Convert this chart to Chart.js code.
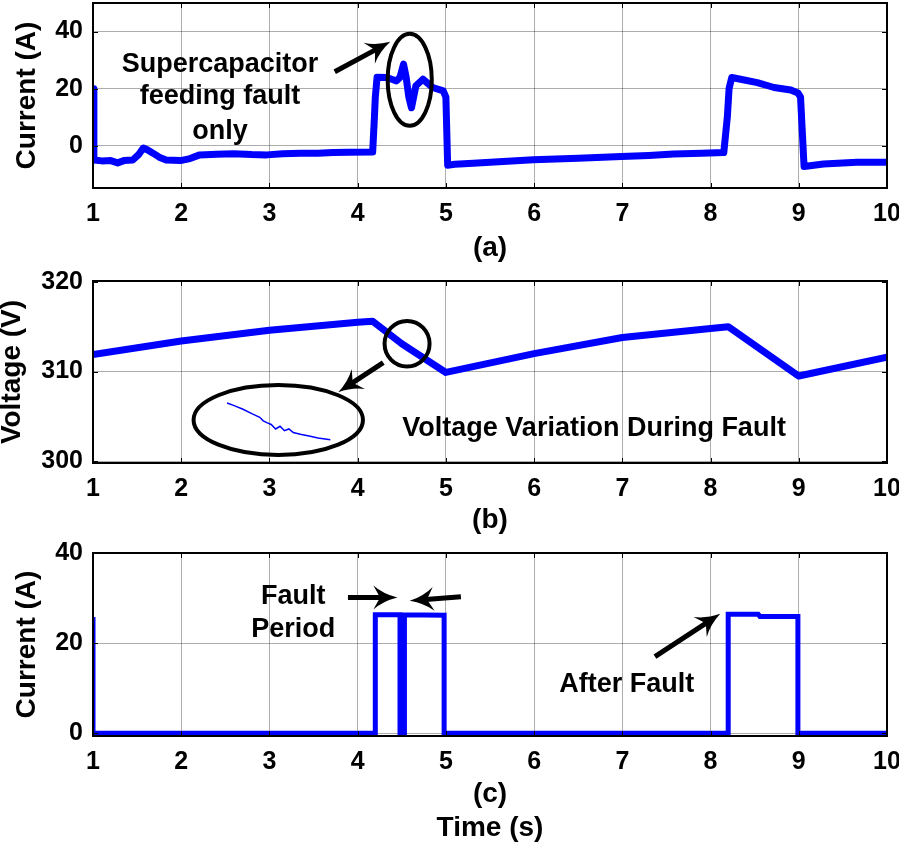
<!DOCTYPE html>
<html>
<head>
<meta charset="utf-8">
<script src="https://cdn.jsdelivr.net/npm/chart.js@4.4.1/dist/chart.umd.min.js"></script>
<style>
  body { margin: 0; background: #fff; }
  #wrap { position: relative; width: 899px; height: 845px; background: #fff; overflow: hidden; }
  canvas { position: absolute; left: 0; }
</style>
</head>
<body>
<div id="wrap">
  <canvas id="chartA" width="899" height="265" style="top:0px"></canvas>
  <canvas id="chartB" width="899" height="272" style="top:263px"></canvas>
  <canvas id="chartC" width="899" height="310" style="top:535px"></canvas>
</div>
<script>
// x axis, shared by the three panels
const xTicks = [1, 2, 3, 4, 5, 6, 7, 8, 9, 10];

// (a) supercapacitor current
const timeA = [1.0, 1.01, 1.1, 1.2, 1.28, 1.35, 1.45, 1.52, 1.57, 1.62, 1.68, 1.75, 1.83, 1.99, 2.1, 2.21, 2.4, 2.59, 2.8, 2.97,
  3.15, 3.35, 3.55, 3.72, 3.9, 4.17, 4.19, 4.2, 4.22, 4.33, 4.44, 4.48, 4.52, 4.55, 4.58, 4.61, 4.66, 4.74, 4.85, 4.97,
  5.0, 5.02, 5.1, 5.31, 5.6, 5.99, 6.5, 6.99, 7.3, 7.58, 7.9, 8.15, 8.19, 8.21, 8.24, 8.34, 8.53, 8.72, 8.91, 8.99,
  9.02, 9.06, 9.28, 9.66, 10.0];
const currentA = [20, -5, -5.3, -5.2, -6, -5.2, -5, -3, -0.8, -1.5, -2.6, -4, -5, -5.2, -4.5, -3.2, -3, -2.8, -3.1, -3.2,
  -2.8, -2.6, -2.6, -2.4, -2.3, -2.2, 10, 17, 24, 23.9, 22.7, 24, 28.6, 23.9, 17, 13.3, 21, 23.3, 20.4, 19.2,
  17, -6.8, -6.5, -6.1, -5.6, -4.9, -4.4, -3.8, -3.4, -2.9, -2.6, -2.4, 10, 20, 23.9, 23.3, 22.1, 20.4, 19.5, 18.5,
  17, -7.3, -6.4, -5.8, -5.8];
const yTicksA = [0, 20, 40];

// (b) dc bus voltage
const timeB = [1, 2, 3, 4, 4.17, 4.5, 5.0, 6, 7, 8, 8.2, 9.0, 10];
const voltB = [311.9, 313.4, 314.6, 315.5, 315.6, 313.1, 309.9, 312.0, 313.8, 314.8, 315.0, 309.5, 311.6];
// zoomed view drawn inside the ellipse
const insetT = [2.52, 2.6, 2.7, 2.8, 2.89, 2.93, 2.97, 3.02, 3.07, 3.12, 3.17, 3.22, 3.27, 3.35, 3.45, 3.55, 3.69];
const insetV = [306.5, 306.2, 305.8, 305.3, 304.9, 304.5, 304.3, 304.1, 303.6, 303.9, 303.4, 303.6, 303.2, 303.0, 302.8, 302.6, 302.4];
const yTicksB = [300, 310, 320];

// (c) fault current
const timeC = [1, 1, 4.2, 4.2, 4.48, 4.48, 4.53, 4.53, 4.98, 4.98, 8.2, 8.2, 8.54, 8.56, 8.99, 8.99, 10];
const currentC = [25.8, 0, 0, 26.3, 26.3, 0, 0, 26.3, 26.2, 0, 0, 26.4, 26.4, 25.9, 25.9, 0, 0];
const yTicksC = [0, 20, 40];

const pts = (xs, ys) => xs.map((x, i) => ({ x: x, y: ys[i] }));
const BOLD = '"Liberation Sans", Arial, sans-serif';
const NOTE_FONT = 'bold 27px ' + BOLD;

function arrowHead(ctx, x0, y0, x1, y1) {
  const a = Math.atan2(y1 - y0, x1 - x0);
  const L = 24, W = 12;
  ctx.save();
  ctx.translate(x1, y1);
  ctx.rotate(a);
  ctx.beginPath();
  ctx.moveTo(0, 0);
  ctx.quadraticCurveTo(-L * 0.6, -W * 0.3, -L, -W);
  ctx.lineTo(-L * 0.72, 0);
  ctx.lineTo(-L, W);
  ctx.quadraticCurveTo(-L * 0.6, W * 0.3, 0, 0);
  ctx.fill();
  ctx.restore();
}

// box, inward ticks and the hand annotations of each panel
const boxPlugin = {
  id: 'box',
  afterDatasetsDraw(chart) {
    const { ctx, chartArea: c, scales } = chart;
    const n = chart.options.plugins.notes || {};
    ctx.save();
    ctx.strokeStyle = '#000';
    ctx.lineWidth = 1;
    scales.x.ticks.forEach(t => {
      const px = Math.round(scales.x.getPixelForValue(t.value)) + 0.5;
      ctx.beginPath();
      ctx.moveTo(px, c.bottom); ctx.lineTo(px, c.bottom - 5);
      ctx.moveTo(px, c.top); ctx.lineTo(px, c.top + 5);
      ctx.stroke();
    });
    scales.y.ticks.forEach(t => {
      const py = Math.round(scales.y.getPixelForValue(t.value)) + 0.5;
      ctx.beginPath();
      ctx.moveTo(c.left, py); ctx.lineTo(c.left + 5, py);
      ctx.moveTo(c.right, py); ctx.lineTo(c.right - 5, py);
      ctx.stroke();
    });
    ctx.lineWidth = 2;
    ctx.strokeRect(c.left, c.top, c.right - c.left, c.bottom - c.top);

    const X = v => scales.x.getPixelForValue(v);
    const Y = v => scales.y.getPixelForValue(v);
    ctx.fillStyle = '#000';
    ctx.lineWidth = 4;
    (n.ellipses || []).forEach(e => {
      const rx = Math.abs(X(e.x + e.rx) - X(e.x));
      const ry = Math.abs(Y(e.y + e.ry) - Y(e.y));
      ctx.beginPath();
      ctx.ellipse(X(e.x), Y(e.y), rx, ry, 0, 0, Math.PI * 2);
      ctx.stroke();
    });
    (n.arrows || []).forEach(a => {
      const x0 = X(a.from[0]), y0 = Y(a.from[1]), x1 = X(a.to[0]), y1 = Y(a.to[1]);
      const ang = Math.atan2(y1 - y0, x1 - x0);
      ctx.lineWidth = 5;
      ctx.beginPath();
      ctx.moveTo(x0, y0);
      ctx.lineTo(x1 - 16 * Math.cos(ang), y1 - 16 * Math.sin(ang));
      ctx.stroke();
      arrowHead(ctx, x0, y0, x1, y1);
    });
    ctx.font = NOTE_FONT;
    ctx.textAlign = 'center';
    ctx.textBaseline = 'middle';
    (n.texts || []).forEach(t => ctx.fillText(t.text, X(t.x), Y(t.y)));
    ctx.restore();
  }
};

function noPad(s) {
  s.paddingTop = 0; s.paddingBottom = 0; s.paddingLeft = 0; s.paddingRight = 0;
}

function makeChart(id, opt) {
  const cv = document.getElementById(id);
  const H = cv.height;
  return new Chart(cv, {
    type: 'line',
    data: { datasets: opt.datasets },
    options: {
      responsive: false,
      animation: false,
      layout: { padding: { top: opt.top, right: 12, left: 0, bottom: 0 } },
      plugins: { legend: { display: false }, tooltip: { enabled: false }, notes: opt.notes },
      elements: { point: { radius: 0 }, line: { tension: 0 } },
      scales: {
        x: {
          type: 'linear', min: 1, max: 10,
          afterBuildTicks: s => { s.ticks = xTicks.map(v => ({ value: v })); },
          afterFit: s => { s.height = H - opt.bottom; noPad(s); },
          grid: { color: 'rgba(0,0,0,0.32)', lineWidth: 1, drawTicks: false },
          border: { display: false },
          ticks: { color: '#000', padding: 11, font: { family: BOLD, size: 25, weight: 'bold' }, maxRotation: 0 },
          title: { display: true, text: opt.xTitle, color: '#000', padding: { top: 0, bottom: opt.xTitlePad },
            font: { family: BOLD, size: 28, weight: 'bold' } }
        },
        y: {
          type: 'linear', min: opt.ymin, max: opt.ymax,
          afterBuildTicks: s => { s.ticks = opt.yTicks.map(v => ({ value: v })); },
          afterFit: s => { s.width = 93; noPad(s); },
          grid: { color: 'rgba(0,0,0,0.32)', lineWidth: 1, drawTicks: false },
          border: { display: false },
          ticks: { color: '#000', padding: 10, font: { family: BOLD, size: 25, weight: 'bold' } },
          title: { display: true, text: opt.yTitle, color: '#000', padding: { top: opt.yTitlePad, bottom: 0 },
            font: { family: BOLD, size: 28, weight: 'bold' } }
        }
      }
    },
    plugins: [boxPlugin]
  });
}

makeChart('chartA', {
  top: 3, bottom: 188, ymin: -14.8, ymax: 50, yTicks: yTicksA,
  xTitle: '(a)', xTitlePad: 0, yTitle: 'Current (A)', yTitlePad: 10,
  datasets: [{ data: pts(timeA, currentA), borderColor: '#0000ff', borderWidth: 7, borderJoinStyle: 'round', borderCapStyle: 'round' }],
  notes: {
    texts: [
      { text: 'Supercapacitor', x: 2.44, y: 28.3 },
      { text: 'feeding fault', x: 2.44, y: 17.1 },
      { text: 'only', x: 2.44, y: 4.9 }
    ],
    arrows: [{ from: [3.74, 25.9], to: [4.37, 36.4] }],
    ellipses: [{ x: 4.59, y: 23.1, rx: 0.25, ry: 16.1 }]
  }
});

makeChart('chartB', {
  top: 18, bottom: 200, ymin: 299.8, ymax: 320.1, yTicks: yTicksB,
  xTitle: '(b)', xTitlePad: -2, yTitle: 'Voltage (V)', yTitlePad: -5,
  datasets: [
    { data: pts(timeB, voltB), borderColor: '#0000ff', borderWidth: 7, borderJoinStyle: 'round', borderCapStyle: 'round' },
    { data: pts(insetT, insetV), borderColor: '#0000ff', borderWidth: 1.5 }
  ],
  notes: {
    texts: [{ text: 'Voltage Variation During Fault', x: 6.68, y: 303.6 }],
    arrows: [{ from: [4.29, 311.0], to: [3.78, 307.7] }],
    ellipses: [
      { x: 4.56, y: 313.1, rx: 0.255, ry: 2.55 },
      { x: 3.10, y: 304.6, rx: 0.96, ry: 3.9 }
    ]
  }
});

makeChart('chartC', {
  top: 18, bottom: 201, ymin: -0.6, ymax: 40, yTicks: yTicksC,
  xTitle: ['(c)', 'Time (s)'], xTitlePad: 0, yTitle: 'Current (A)', yTitlePad: 10,
  datasets: [{ data: pts(timeC, currentC), borderColor: '#0000ff', borderWidth: 5, borderJoinStyle: 'miter' }],
  notes: {
    texts: [
      { text: 'Fault', x: 3.27, y: 30.3 },
      { text: 'Period', x: 3.27, y: 23.0 },
      { text: 'After Fault', x: 7.05, y: 10.8 }
    ],
    arrows: [
      { from: [3.89, 30.1], to: [4.45, 30.1] },
      { from: [5.17, 30.3], to: [4.59, 29.4] },
      { from: [7.37, 17.0], to: [8.11, 26.5] }
    ]
  }
});
</script>
</body>
</html>
